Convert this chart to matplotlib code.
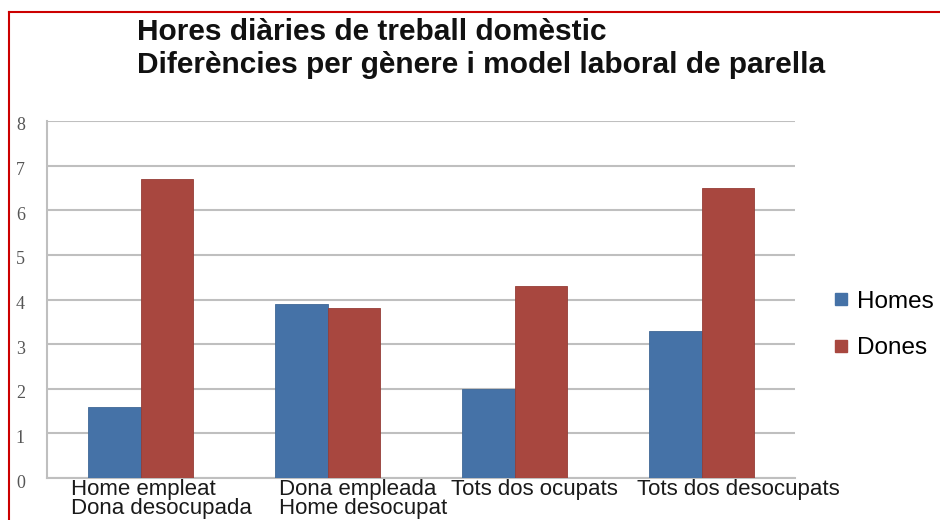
import matplotlib
matplotlib.use("Agg")
import matplotlib.pyplot as plt
import matplotlib.transforms as mtransforms
from matplotlib.lines import Line2D
import numpy as np

categories = ["Home empleat\nDona desocupada", "Dona empleada\nHome desocupat",
              "Tots dos ocupats", "Tots dos desocupats"]
homes = [1.6, 3.9, 2.0, 3.3]
dones = [6.7, 3.8, 4.3, 6.5]
series_names = ["Homes", "Dones"]
yticks = [0, 1, 2, 3, 4, 5, 6, 7, 8]
title1 = "Hores diàries de treball domèstic"
title2 = "Diferències per gènere i model laboral de parella"

BLUE = "#4572A7"
RED = "#A8473F"
GRID = "#BFBFBF"

plt.rcParams['font.family'] = ['Liberation Sans', 'DejaVu Sans']

fig = plt.figure(figsize=(9.4, 5.2), dpi=100)
ax = fig.add_axes([47/940, 1 - 478/520, (795-47)/940, (478-121)/520])

x = np.arange(len(categories))
w = 0.283
ax.bar(x - w/2, homes, width=w, color=BLUE, edgecolor="#3F6796", linewidth=0.6, zorder=3)
ax.bar(x + w/2, dones, width=w, color=RED, edgecolor="#953D36", linewidth=0.6, zorder=3)

ax.set_xlim(-0.5, len(categories) - 0.5)
ax.set_ylim(0, 8)
ax.set_yticks(yticks)
ax.set_yticklabels([str(t) for t in yticks], family=['Liberation Serif', 'DejaVu Serif'],
                   fontsize=13, color="#555555")
ax.yaxis.grid(True, color=GRID, linewidth=1.5, zorder=0)
ax.tick_params(axis='y', length=0, pad=16)
for lbl in ax.get_yticklabels():
    lbl.set_transform(lbl.get_transform() + mtransforms.ScaledTranslation(0, -3/100, fig.dpi_scale_trans))

for s in ["top", "right"]:
    ax.spines[s].set_visible(False)
ax.spines["left"].set_color(GRID)
ax.spines["left"].set_linewidth(1.5)
ax.spines["bottom"].set_color(GRID)
ax.spines["bottom"].set_linewidth(1.5)

ax.set_xticks(x)
ax.set_xticklabels(categories, fontsize=16, ha='left', multialignment='left',
                   color="#1a1a1a", linespacing=0.84)
ax.tick_params(axis='x', length=0, pad=1)
offsets_px = [-69.5, -48.5, -63.5, -64.5]
for lbl, dx in zip(ax.get_xticklabels(), offsets_px):
    lbl.set_transform(lbl.get_transform() + mtransforms.ScaledTranslation(dx/100, 0, fig.dpi_scale_trans))

# Title
fig.text(137/940, 1 - 40/520, title1, fontsize=21.5, fontweight='bold', va='baseline', ha='left', color="#111111")
fig.text(137/940, 1 - 73/520, title2, fontsize=21.5, fontweight='bold', va='baseline', ha='left', color="#111111")

# Legend
handles = [Line2D([], [], marker='s', linestyle='none', markersize=9, color=BLUE),
           Line2D([], [], marker='s', linestyle='none', markersize=9, color=RED)]
leg = fig.legend(handles, series_names, loc='center left', bbox_to_anchor=(834/940, 1 - 325/520),
                 frameon=False, fontsize=17.5, handlelength=0.6, handletextpad=0.35,
                 labelspacing=1.0, borderpad=0, borderaxespad=0)

# Red border (top and left)
fig.add_artist(Line2D([9/940, 9/940], [0, 1 - 12/520], transform=fig.transFigure, color="#CC0000", linewidth=1.5))
fig.add_artist(Line2D([9/940, 1], [1 - 12/520, 1 - 12/520], transform=fig.transFigure, color="#CC0000", linewidth=1.5))

fig.savefig("out.png", dpi=100)
